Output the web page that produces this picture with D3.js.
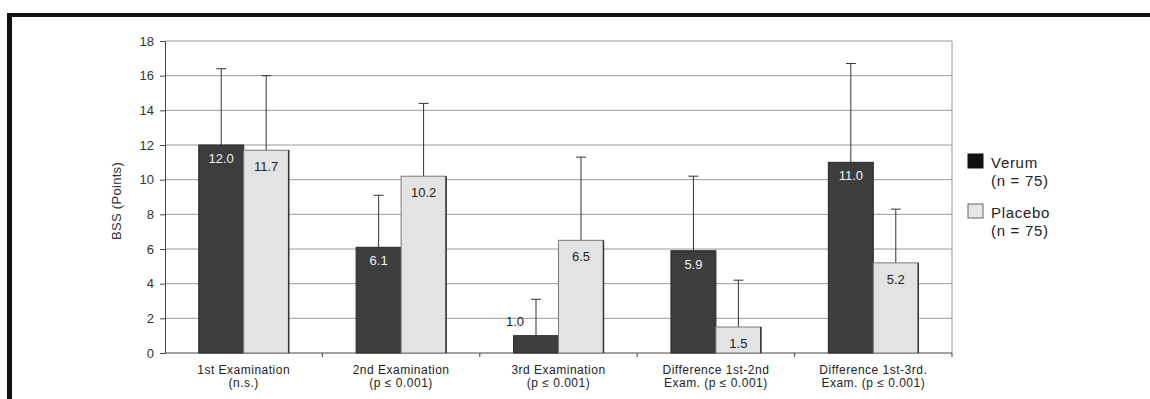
<!DOCTYPE html>
<html>
<head>
<meta charset="utf-8">
<script src="https://cdn.jsdelivr.net/npm/d3@7"></script>
<style>
  body { margin: 0; background: #fff; }
  text { font-family: Arial, "Liberation Sans", sans-serif; }
</style>
</head>
<body>
<svg id="chart" width="1150" height="399"></svg>
<script>
// ===== data =====
const categories = [
  ['1st Examination', '(n.s.)'],
  ['2nd Examination', '(p \u2264 0.001)'],
  ['3rd Examination', '(p \u2264 0.001)'],
  ['Difference 1st-2nd', 'Exam. (p \u2264 0.001)'],
  ['Difference 1st-3rd.', 'Exam. (p \u2264 0.001)']
];
const seriesNames = ['Verum', 'Placebo'];
const seriesN = ['(n = 75)', '(n = 75)'];
const verumMean = [12.0, 6.1, 1.0, 5.9, 11.0];
const verumSD = [4.4, 3.0, 2.1, 4.3, 5.7];
const placeboMean = [11.7, 10.2, 6.5, 1.5, 5.2];
const placeboSD = [4.3, 4.2, 4.8, 2.7, 3.1];
const yTicks = [0, 2, 4, 6, 8, 10, 12, 14, 16, 18];
const yLabel = 'BSS (Points)';

// ===== layout =====
const plotL = 165, plotR = 952, plotT = 41, plotB = 353;
const fills = ['#3d3d3d', '#e3e3e3'];
const strokes = ['#2a2a2a', '#7a7a7a'];

const svg = d3.select('#chart');

// scanned page frame (thick top and left edge)
svg.append('rect').attr('x', 7).attr('y', 13).attr('width', 1150).attr('height', 4).attr('fill', '#111');
svg.append('rect').attr('x', 7).attr('y', 13).attr('width', 5).attr('height', 390).attr('fill', '#111');

const catKeys = categories.map((c, i) => i);
const x0 = d3.scaleBand(catKeys, [plotL, plotR]);
const x1 = d3.scaleBand([0, 1], [0, x0.bandwidth()]).paddingInner(0).paddingOuter(0.75);
const y = d3.scaleLinear([0, 18], [plotB, plotT]);

// gridlines
svg.append('g')
  .selectAll('line')
  .data(yTicks.filter(d => d > 0))
  .enter().append('line')
  .attr('x1', plotL).attr('x2', plotR)
  .attr('y1', d => y(d)).attr('y2', d => y(d))
  .attr('stroke', '#9a9a9a').attr('stroke-width', 1);

// right border of plot
svg.append('line')
  .attr('x1', plotR).attr('x2', plotR).attr('y1', plotT).attr('y2', plotB)
  .attr('stroke', '#9a9a9a');

// y axis
const yAxis = svg.append('g')
  .attr('transform', 'translate(' + plotL + ',0)')
  .call(d3.axisLeft(y).tickValues(yTicks).tickSize(5).tickPadding(6));
yAxis.select('.domain').attr('stroke', '#444');
yAxis.selectAll('.tick line').attr('stroke', '#444');
yAxis.selectAll('text').attr('font-size', 13).style('fill', '#333')
  .style('font-family', 'Arial, "Liberation Sans", sans-serif');

svg.append('text')
  .attr('transform', 'translate(' + 121 + ',' + 201 + ') rotate(-90)')
  .attr('text-anchor', 'middle')
  .attr('font-size', 13)
  .attr('letter-spacing', 0.3)
  .style('fill', '#333')
  .text(yLabel);

// x axis line + boundary ticks
svg.append('line')
  .attr('x1', plotL).attr('x2', plotR).attr('y1', plotB).attr('y2', plotB)
  .attr('stroke', '#444');
svg.append('g')
  .selectAll('line')
  .data(catKeys.slice(1).map(i => x0(i)).concat([plotR]))
  .enter().append('line')
  .attr('x1', d => d).attr('x2', d => d)
  .attr('y1', plotB).attr('y2', plotB + 4)
  .attr('stroke', '#444');

// build rows
const rows = [];
catKeys.forEach(i => {
  rows.push({ cat: i, s: 0, mean: verumMean[i], sd: verumSD[i] });
  rows.push({ cat: i, s: 1, mean: placeboMean[i], sd: placeboSD[i] });
});

// error bars (upper)
const eb = svg.append('g').selectAll('g').data(rows).enter().append('g')
  .attr('stroke', '#333').attr('stroke-width', 1);
eb.append('line')
  .attr('x1', d => x0(d.cat) + x1(d.s) + x1.bandwidth() / 2)
  .attr('x2', d => x0(d.cat) + x1(d.s) + x1.bandwidth() / 2)
  .attr('y1', d => y(d.mean)).attr('y2', d => y(d.mean + d.sd));
eb.append('line')
  .attr('x1', d => x0(d.cat) + x1(d.s) + x1.bandwidth() / 2 - 5)
  .attr('x2', d => x0(d.cat) + x1(d.s) + x1.bandwidth() / 2 + 5)
  .attr('y1', d => y(d.mean + d.sd)).attr('y2', d => y(d.mean + d.sd));

// bars
svg.append('g').selectAll('rect').data(rows).enter().append('rect')
  .attr('x', d => x0(d.cat) + x1(d.s))
  .attr('y', d => y(d.mean))
  .attr('width', x1.bandwidth())
  .attr('height', d => y(0) - y(d.mean))
  .attr('fill', d => fills[d.s])
  .attr('stroke', d => strokes[d.s])
  .attr('stroke-width', 1);

// dark right edge on placebo bars (scan shadow)
svg.append('g').selectAll('line').data(rows.filter(d => d.s === 1)).enter().append('line')
  .attr('x1', d => x0(d.cat) + x1(d.s) + x1.bandwidth())
  .attr('x2', d => x0(d.cat) + x1(d.s) + x1.bandwidth())
  .attr('y1', d => y(d.mean)).attr('y2', y(0))
  .attr('stroke', '#333').attr('stroke-width', 1.5);

// value labels
svg.append('g').selectAll('text').data(rows).enter().append('text')
  .attr('x', d => {
    const cx = x0(d.cat) + x1(d.s) + x1.bandwidth() / 2;
    return (y(0) - y(d.mean) < 24) ? cx - 21 : cx;
  })
  .attr('y', d => (y(0) - y(d.mean) < 24) ? y(d.mean) - 10 : y(d.mean) + (d.s === 0 ? 18 : 21))
  .attr('text-anchor', 'middle')
  .attr('font-size', 13)
  .style('fill', d => (d.s === 0 && y(0) - y(d.mean) >= 24) ? '#f2f2f2' : '#222')
  .text(d => d.mean.toFixed(1));

// x labels
const xl = svg.append('g').selectAll('text').data(catKeys).enter().append('text')
  .attr('x', i => x0(i) + x0.bandwidth() / 2)
  .attr('y', 374)
  .attr('text-anchor', 'middle')
  .attr('font-size', 12)
  .attr('letter-spacing', 0.5)
  .style('fill', '#222');
xl.append('tspan').attr('x', i => x0(i) + x0.bandwidth() / 2).text(i => categories[i][0]);
xl.append('tspan').attr('x', i => x0(i) + x0.bandwidth() / 2).attr('dy', 13).text(i => categories[i][1]);

// legend
const lg = svg.append('g').attr('transform', 'translate(968,154)');
const li = lg.selectAll('g').data(seriesNames).enter().append('g')
  .attr('transform', (d, i) => 'translate(0,' + i * 50 + ')');
li.append('rect')
  .attr('width', 15).attr('height', 14)
  .attr('fill', (d, i) => i === 0 ? '#111' : '#e6e6e6')
  .attr('stroke', (d, i) => i === 0 ? '#111' : '#666');
li.append('text').attr('x', 23).attr('y', 13.5)
  .attr('font-size', 15).attr('letter-spacing', 0.7).style('fill', '#222').text(d => d);
li.append('text').attr('x', 23).attr('y', 32)
  .attr('font-size', 15).attr('letter-spacing', 0.7).style('fill', '#222').text((d, i) => seriesN[i]);
</script>
</body>
</html>
